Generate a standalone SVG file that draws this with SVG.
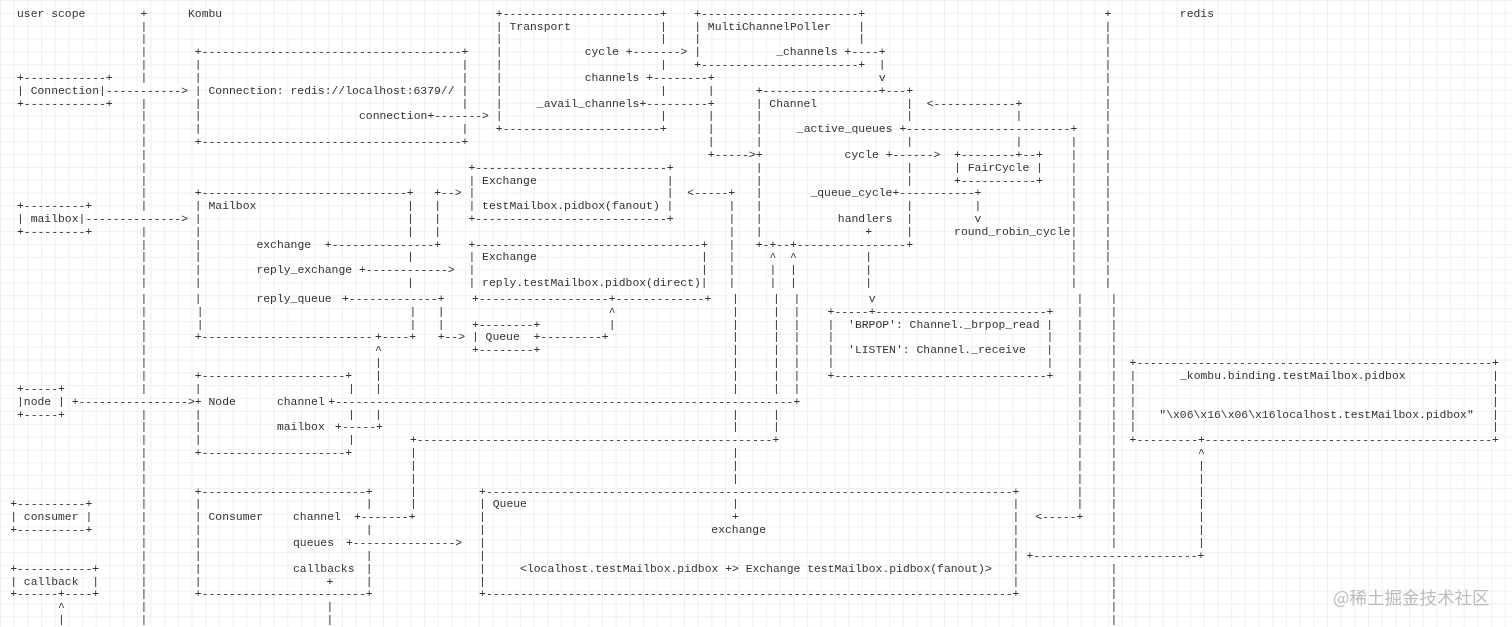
<svg xmlns="http://www.w3.org/2000/svg" width="1512" height="627" viewBox="0 0 1512 627" xml:space="preserve">
<defs>
<pattern id="grid" width="13.68" height="12.84" patternUnits="userSpaceOnUse">
<path d="M0 0.5H13.68M0.5 0V12.84" stroke="#ececec" stroke-width="0.8" fill="none"/>
</pattern>
<filter id="soft" x="-2%" y="-2%" width="104%" height="104%">
<feGaussianBlur stdDeviation="0.25"/>
</filter>
<style>
.t{font-family:"Liberation Mono","DejaVu Sans Mono",monospace;font-size:11.4px;fill:#333333;white-space:pre}
.wm{font-family:"Noto Sans CJK SC","Noto Sans",sans-serif;font-size:17.5px;fill:#bdbdbd}
</style>
</defs>
<rect width="1512" height="627" fill="#ffffff"/>
<rect width="1512" height="627" fill="url(#grid)"/>
<g filter="url(#soft)">

<g id="scopes">
<text class="t" x="17" y="16.8">user scope</text>
<text class="t" x="188" y="16.8">Kombu</text>
<text class="t" x="1179.8" y="16.8">redis</text>
<text class="t" x="140.6" y="16.8">+</text>
<text class="t" x="140.6" y="29.6">|</text><text class="t" x="140.6" y="42.4">|</text><text class="t" x="140.6" y="55.3">|</text><text class="t" x="140.6" y="68.1">|</text><text class="t" x="140.6" y="80.9">|</text><text class="t" x="140.6" y="106.5">|</text><text class="t" x="140.6" y="119.4">|</text><text class="t" x="140.6" y="132.2">|</text><text class="t" x="140.6" y="145.0">|</text><text class="t" x="140.6" y="157.8">|</text><text class="t" x="140.6" y="170.6">|</text><text class="t" x="140.6" y="183.5">|</text><text class="t" x="140.6" y="196.3">|</text><text class="t" x="140.6" y="209.1">|</text><text class="t" x="140.6" y="234.7">|</text><text class="t" x="140.6" y="247.6">|</text><text class="t" x="140.6" y="260.4">|</text><text class="t" x="140.6" y="273.2">|</text><text class="t" x="140.6" y="286.0">|</text>
<text class="t" x="140.6" y="301.8">|</text><text class="t" x="140.6" y="314.7">|</text><text class="t" x="140.6" y="327.5">|</text><text class="t" x="140.6" y="340.4">|</text><text class="t" x="140.6" y="353.2">|</text><text class="t" x="140.6" y="366.1">|</text><text class="t" x="140.6" y="378.9">|</text><text class="t" x="140.6" y="391.8">|</text><text class="t" x="140.6" y="417.5">|</text><text class="t" x="140.6" y="430.3">|</text><text class="t" x="140.6" y="443.2">|</text><text class="t" x="140.6" y="456.0">|</text><text class="t" x="140.6" y="468.9">|</text><text class="t" x="140.6" y="481.7">|</text><text class="t" x="140.6" y="494.6">|</text><text class="t" x="140.6" y="507.4">|</text><text class="t" x="140.6" y="520.3">|</text><text class="t" x="140.6" y="533.1">|</text><text class="t" x="140.6" y="546.0">|</text><text class="t" x="140.6" y="558.8">|</text><text class="t" x="140.6" y="571.7">|</text><text class="t" x="140.6" y="584.5">|</text><text class="t" x="140.6" y="597.4">|</text><text class="t" x="140.6" y="610.2">|</text><text class="t" x="140.6" y="623.1">|</text>
<text class="t" x="1104.6" y="16.8">+</text>
<text class="t" x="1104.6" y="29.6">|</text><text class="t" x="1104.6" y="42.4">|</text><text class="t" x="1104.6" y="55.3">|</text><text class="t" x="1104.6" y="68.1">|</text><text class="t" x="1104.6" y="80.9">|</text><text class="t" x="1104.6" y="93.7">|</text><text class="t" x="1104.6" y="106.5">|</text><text class="t" x="1104.6" y="119.4">|</text><text class="t" x="1104.6" y="132.2">|</text><text class="t" x="1104.6" y="145.0">|</text><text class="t" x="1104.6" y="157.8">|</text><text class="t" x="1104.6" y="170.6">|</text><text class="t" x="1104.6" y="183.5">|</text><text class="t" x="1104.6" y="196.3">|</text><text class="t" x="1104.6" y="209.1">|</text><text class="t" x="1104.6" y="221.9">|</text><text class="t" x="1104.6" y="234.7">|</text><text class="t" x="1104.6" y="247.6">|</text><text class="t" x="1104.6" y="260.4">|</text><text class="t" x="1104.6" y="273.2">|</text><text class="t" x="1104.6" y="286.0">|</text>
<text class="t" x="1110.6" y="301.8">|</text><text class="t" x="1110.6" y="314.7">|</text><text class="t" x="1110.6" y="327.5">|</text><text class="t" x="1110.6" y="340.4">|</text><text class="t" x="1110.6" y="353.2">|</text><text class="t" x="1110.6" y="366.1">|</text><text class="t" x="1110.6" y="378.9">|</text><text class="t" x="1110.6" y="391.8">|</text><text class="t" x="1110.6" y="404.6">|</text><text class="t" x="1110.6" y="417.5">|</text><text class="t" x="1110.6" y="430.3">|</text><text class="t" x="1110.6" y="443.2">|</text><text class="t" x="1110.6" y="456.0">|</text><text class="t" x="1110.6" y="468.9">|</text><text class="t" x="1110.6" y="481.7">|</text><text class="t" x="1110.6" y="494.6">|</text><text class="t" x="1110.6" y="507.4">|</text><text class="t" x="1110.6" y="520.3">|</text><text class="t" x="1110.6" y="533.1">|</text><text class="t" x="1110.6" y="546.0">|</text><text class="t" x="1110.6" y="571.7">|</text><text class="t" x="1110.6" y="584.5">|</text><text class="t" x="1110.6" y="597.4">|</text><text class="t" x="1110.6" y="610.2">|</text><text class="t" x="1110.6" y="623.1">|</text>
</g>

<g id="node-user-connection">
<text class="t" x="17" y="80.9">+------------+</text>
<text class="t" x="17" y="93.7">| Connection|</text>
<text class="t" x="17" y="106.5">+------------+</text>
</g>
<g id="node-user-mailbox">
<text class="t" x="17" y="209.1">+---------+</text>
<text class="t" x="17" y="221.9">| mailbox|</text>
<text class="t" x="17" y="234.7">+---------+</text>
</g>
<g id="node-user-node">
<text class="t" x="17" y="391.8">+-----+</text>
<text class="t" x="17" y="404.6">|node |</text>
<text class="t" x="17" y="417.5">+-----+</text>
</g>
<g id="node-user-consumer">
<text class="t" x="10.2" y="507.4">+----------+</text>
<text class="t" x="10.2" y="520.3">| consumer |</text>
<text class="t" x="10.2" y="533.1">+----------+</text>
</g>
<g id="node-user-callback">
<text class="t" x="10.2" y="571.7">+-----------+</text>
<text class="t" x="10.2" y="584.5">| callback  |</text>
<text class="t" x="10.2" y="597.4">+------+----+</text>
</g>

<g id="node-connection">
<text class="t" x="194.8" y="55.3" textLength="273.6">+--------------------------------------+</text>
<text class="t" x="194.8" y="68.1">|</text><text class="t" x="461.6" y="68.1">|</text>
<text class="t" x="194.8" y="80.9">|</text><text class="t" x="461.6" y="80.9">|</text>
<text class="t" x="194.8" y="93.7">| Connection: redis://localhost:6379// |</text>
<text class="t" x="194.8" y="106.5">|</text><text class="t" x="461.6" y="106.5">|</text>
<text class="t" x="194.8" y="119.4">|</text><text class="t" x="359" y="119.4">connection</text>
<text class="t" x="194.8" y="132.2">|</text><text class="t" x="461.6" y="132.2">|</text>
<text class="t" x="194.8" y="145.0" textLength="273.6">+--------------------------------------+</text>
</g>

<g id="node-mailbox">
<text class="t" x="194.8" y="196.3" textLength="218.88">+------------------------------+</text>
<text class="t" x="194.8" y="209.1">| Mailbox</text><text class="t" x="406.9" y="209.1">|</text>
<text class="t" x="194.8" y="221.9">|</text><text class="t" x="406.9" y="221.9">|</text>
<text class="t" x="194.8" y="234.7">|</text><text class="t" x="406.9" y="234.7">|</text>
<text class="t" x="194.8" y="247.6">|</text><text class="t" x="256.4" y="247.6">exchange</text>
<text class="t" x="194.8" y="260.4">|</text><text class="t" x="406.9" y="260.4">|</text>
<text class="t" x="194.8" y="273.2">|</text><text class="t" x="256.4" y="273.2">reply_exchange</text>
<text class="t" x="194.8" y="286.0">|</text><text class="t" x="406.9" y="286.0">|</text>
<text class="t" x="194.8" y="301.8">|</text><text class="t" x="256.4" y="301.8">reply_queue</text>
<text class="t" x="196.8" y="314.7">|</text><text class="t" x="409.6" y="314.7">|</text>
<text class="t" x="196.8" y="327.5">|</text><text class="t" x="409.6" y="327.5">|</text>
<text class="t" x="194.8" y="340.4" textLength="177.84">+-------------------------</text><text class="t" x="375.1" y="340.4">+----+</text>
</g>

<g id="node-node">
<text class="t" x="194.8" y="378.9" textLength="157.32">+---------------------+</text>
<text class="t" x="194.8" y="391.8">|</text><text class="t" x="348" y="391.8">|</text>
<text class="t" x="194.8" y="404.6">+ Node</text><text class="t" x="276.9" y="404.6">channel</text>
<text class="t" x="194.8" y="417.5">|</text><text class="t" x="348" y="417.5">|</text>
<text class="t" x="194.8" y="430.3">|</text><text class="t" x="276.9" y="430.3">mailbox</text>
<text class="t" x="194.8" y="443.2">|</text><text class="t" x="348" y="443.2">|</text>
<text class="t" x="194.8" y="456.0" textLength="157.32">+---------------------+</text>
</g>

<g id="node-consumer">
<text class="t" x="194.8" y="494.6" textLength="177.84">+------------------------+</text>
<text class="t" x="194.8" y="507.4">|</text><text class="t" x="365.8" y="507.4">|</text>
<text class="t" x="194.8" y="520.3">| Consumer</text><text class="t" x="293" y="520.3">channel</text>
<text class="t" x="194.8" y="533.1">|</text><text class="t" x="365.8" y="533.1">|</text>
<text class="t" x="194.8" y="546.0">|</text><text class="t" x="293" y="546.0">queues</text>
<text class="t" x="194.8" y="558.8">|</text><text class="t" x="365.8" y="558.8">|</text>
<text class="t" x="194.8" y="571.7">|</text><text class="t" x="293" y="571.7">callbacks</text><text class="t" x="365.8" y="571.7">|</text>
<text class="t" x="194.8" y="584.5">|</text><text class="t" x="365.8" y="584.5">|</text>
<text class="t" x="194.8" y="597.4" textLength="177.84">+------------------------+</text>
</g>

<g id="node-transport">
<text class="t" x="495.8" y="16.8" textLength="171">+-----------------------+</text>
<text class="t" x="495.8" y="29.6">| Transport</text><text class="t" x="660" y="29.6">|</text>
<text class="t" x="495.8" y="42.4">|</text><text class="t" x="660" y="42.4">|</text>
<text class="t" x="495.8" y="55.3">|</text><text class="t" x="584.7" y="55.3">cycle</text>
<text class="t" x="495.8" y="68.1">|</text><text class="t" x="660" y="68.1">|</text>
<text class="t" x="495.8" y="80.9">|</text><text class="t" x="584.7" y="80.9">channels</text>
<text class="t" x="495.8" y="93.7">|</text><text class="t" x="660" y="93.7">|</text>
<text class="t" x="495.8" y="106.5">|</text><text class="t" x="536.8" y="106.5">_avail_channels</text>
<text class="t" x="495.8" y="119.4">|</text><text class="t" x="660" y="119.4">|</text>
<text class="t" x="495.8" y="132.2" textLength="171">+-----------------------+</text>
</g>

<g id="node-multichannelpoller">
<text class="t" x="694.2" y="16.8" textLength="171">+-----------------------+</text>
<text class="t" x="694.2" y="29.6">| MultiChannelPoller</text><text class="t" x="858.3" y="29.6">|</text>
<text class="t" x="694.2" y="42.4">|</text><text class="t" x="858.3" y="42.4">|</text>
<text class="t" x="694.2" y="55.3">|</text><text class="t" x="776.2" y="55.3">_channels</text>
<text class="t" x="694.2" y="68.1" textLength="171">+-----------------------+</text>
</g>

<g id="node-channel">
<text class="t" x="755.7" y="93.7" textLength="157.32">+-----------------+---+</text>
<text class="t" x="755.7" y="106.5">| Channel</text><text class="t" x="906.2" y="106.5">|</text>
<text class="t" x="755.7" y="119.4">|</text><text class="t" x="906.2" y="119.4">|</text>
<text class="t" x="755.7" y="132.2">|</text><text class="t" x="796.8" y="132.2">_active_queues</text>
<text class="t" x="755.7" y="145.0">|</text><text class="t" x="906.2" y="145.0">|</text>
<text class="t" x="844.6" y="157.8">cycle</text>
<text class="t" x="755.7" y="170.6">|</text><text class="t" x="906.2" y="170.6">|</text>
<text class="t" x="755.7" y="183.5">|</text><text class="t" x="906.2" y="183.5">|</text>
<text class="t" x="755.7" y="196.3">|</text><text class="t" x="810.4" y="196.3">_queue_cycle</text>
<text class="t" x="755.7" y="209.1">|</text><text class="t" x="906.2" y="209.1">|</text>
<text class="t" x="755.7" y="221.9">|</text><text class="t" x="837.8" y="221.9">handlers</text><text class="t" x="906.2" y="221.9">|</text>
<text class="t" x="755.7" y="234.7">|</text><text class="t" x="906.2" y="234.7">|</text>
<text class="t" x="755.7" y="247.6" textLength="157.32">+-+--+----------------+</text>
</g>

<g id="node-faircycle">
<text class="t" x="954.1" y="157.8">+--------+--+</text>
<text class="t" x="954.1" y="170.6">| FairCycle |</text>
<text class="t" x="954.1" y="183.5">+-----------+</text>
</g>
<g id="label-round-robin">
<text class="t" x="954.1" y="234.7">round_robin_cycle</text>
</g>

<g id="node-exchange-fanout">
<text class="t" x="468.4" y="170.6" textLength="205.2">+----------------------------+</text>
<text class="t" x="468.4" y="183.5">| Exchange</text><text class="t" x="666.8" y="183.5">|</text>
<text class="t" x="468.4" y="196.3">|</text><text class="t" x="666.8" y="196.3">|</text>
<text class="t" x="468.4" y="209.1">| testMailbox.pidbox(fanout) |</text>
<text class="t" x="468.4" y="221.9" textLength="205.2">+----------------------------+</text>
</g>

<g id="node-exchange-direct">
<text class="t" x="468.4" y="247.6" textLength="239.4">+---------------------------------+</text>
<text class="t" x="468.4" y="260.4">| Exchange</text><text class="t" x="701" y="260.4">|</text>
<text class="t" x="468.4" y="273.2">|</text><text class="t" x="701" y="273.2">|</text>
<text class="t" x="468.4" y="286.0">| reply.testMailbox.pidbox(direct)|</text>
<text class="t" x="471.9" y="301.8" textLength="239.4">+-------------------+-------------+</text>
</g>

<g id="node-queue-small">
<text class="t" x="471.9" y="327.5">+--------+</text>
<text class="t" x="471.9" y="340.4">| Queue  +</text>
<text class="t" x="471.9" y="353.2">+--------+</text>
</g>

<g id="node-brpop">
<text class="t" x="827.6" y="314.7" textLength="225.72">+-----+-------------------------+</text>
<text class="t" x="827.6" y="327.5">|  'BRPOP': Channel._brpop_read |</text>
<text class="t" x="827.6" y="340.4">|</text><text class="t" x="1046.5" y="340.4">|</text>
<text class="t" x="827.6" y="353.2">|  'LISTEN': Channel._receive   |</text>
<text class="t" x="827.6" y="366.1">|</text><text class="t" x="1046.5" y="366.1">|</text>
<text class="t" x="827.6" y="378.9" textLength="225.72">+-------------------------------+</text>
</g>

<g id="node-kombu-binding">
<text class="t" x="1129.6" y="366.1" textLength="369.36">+----------------------------------------------------+</text>
<text class="t" x="1129.6" y="378.9">|</text><text class="t" x="1180" y="378.9">_kombu.binding.testMailbox.pidbox</text><text class="t" x="1492.1" y="378.9">|</text>
<text class="t" x="1129.6" y="391.8">|</text><text class="t" x="1492.1" y="391.8">|</text>
<text class="t" x="1129.6" y="404.6">|</text><text class="t" x="1492.1" y="404.6">|</text>
<text class="t" x="1129.6" y="417.5">|</text><text class="t" x="1159.3" y="417.5">"\x06\x16\x06\x16localhost.testMailbox.pidbox"</text><text class="t" x="1492.1" y="417.5">|</text>
<text class="t" x="1129.6" y="430.3">|</text><text class="t" x="1492.1" y="430.3">|</text>
<text class="t" x="1129.6" y="443.2" textLength="369.36">+---------+------------------------------------------+</text>
</g>

<g id="node-queue">
<text class="t" x="479.1" y="494.6" textLength="540.36">+-----------------------------------------------------------------------------+</text>
<text class="t" x="479.1" y="507.4">| Queue</text><text class="t" x="1012.6" y="507.4">|</text>
<text class="t" x="479.1" y="520.3">|</text><text class="t" x="1012.6" y="520.3">|</text>
<text class="t" x="479.1" y="533.1">|</text><text class="t" x="711.3" y="533.1">exchange</text><text class="t" x="1012.6" y="533.1">|</text>
<text class="t" x="479.1" y="546.0">|</text><text class="t" x="1012.6" y="546.0">|</text>
<text class="t" x="479.1" y="558.8">|</text><text class="t" x="1012.6" y="558.8">|</text>
<text class="t" x="479.1" y="571.7">|</text><text class="t" x="520.1" y="571.7">&lt;localhost.testMailbox.pidbox +&gt; Exchange testMailbox.pidbox(fanout)&gt;</text><text class="t" x="1012.6" y="571.7">|</text>
<text class="t" x="479.1" y="584.5">|</text><text class="t" x="1012.6" y="584.5">|</text>
<text class="t" x="479.1" y="597.4" textLength="540.36">+-----------------------------------------------------------------------------+</text>
</g>

<g id="connectors">
<text class="t" x="105.9" y="93.7">-----------&gt;</text>
<text class="t" x="85.4" y="221.9">--------------&gt;</text>
<text class="t" x="427.4" y="119.4">+-------&gt;</text>
<text class="t" x="625.8" y="55.3">+-------&gt;</text>
<text class="t" x="646.3" y="80.9">+--------+</text>
<text class="t" x="707.8" y="93.7">|</text>
<text class="t" x="639.4" y="106.5">+---------+</text>
<text class="t" x="707.8" y="119.4">|</text><text class="t" x="707.8" y="132.2">|</text><text class="t" x="707.8" y="145.0">|</text>
<text class="t" x="707.8" y="157.8">+-----&gt;+</text>
<text class="t" x="844.6" y="55.3">+----+</text>
<text class="t" x="878.8" y="68.1">|</text>
<text class="t" x="878.8" y="80.9">v</text>
<text class="t" x="926.7" y="106.5">&lt;------------+</text>
<text class="t" x="1015.6" y="119.4">|</text><text class="t" x="1015.6" y="145.0">|</text>
<text class="t" x="899.4" y="132.2" textLength="177.84">+------------------------+</text>
<text class="t" x="885.7" y="157.8">+------&gt;</text>
<text class="t" x="1070.4" y="145.0">|</text><text class="t" x="1070.4" y="157.8">|</text><text class="t" x="1070.4" y="170.6">|</text><text class="t" x="1070.4" y="183.5">|</text><text class="t" x="1070.4" y="196.3">|</text><text class="t" x="1070.4" y="209.1">|</text><text class="t" x="1070.4" y="221.9">|</text><text class="t" x="1070.4" y="234.7">|</text><text class="t" x="1070.4" y="247.6">|</text><text class="t" x="1070.4" y="260.4">|</text><text class="t" x="1070.4" y="273.2">|</text><text class="t" x="1070.4" y="286.0">|</text>
<text class="t" x="892.5" y="196.3">+-----------+</text>
<text class="t" x="974.6" y="209.1">|</text>
<text class="t" x="974.6" y="221.9">v</text>
<text class="t" x="865.2" y="234.7">+</text>
<text class="t" x="769.4" y="260.4">^</text><text class="t" x="789.9" y="260.4">^</text><text class="t" x="865.2" y="260.4">|</text>
<text class="t" x="769.4" y="273.2">|</text><text class="t" x="789.9" y="273.2">|</text><text class="t" x="865.2" y="273.2">|</text>
<text class="t" x="769.4" y="286.0">|</text><text class="t" x="789.9" y="286.0">|</text><text class="t" x="865.2" y="286.0">|</text>
<text class="t" x="687.3" y="196.3">&lt;-----+</text>
<text class="t" x="728.4" y="209.1">|</text><text class="t" x="728.4" y="221.9">|</text><text class="t" x="728.4" y="234.7">|</text><text class="t" x="728.4" y="247.6">|</text><text class="t" x="728.4" y="260.4">|</text><text class="t" x="728.4" y="273.2">|</text><text class="t" x="728.4" y="286.0">|</text>
<text class="t" x="434.2" y="196.3">+--&gt;</text>
<text class="t" x="434.2" y="209.1">|</text><text class="t" x="434.2" y="221.9">|</text><text class="t" x="434.2" y="234.7">|</text>
<text class="t" x="324.8" y="247.6">+---------------+</text>
<text class="t" x="359" y="273.2">+------------&gt;</text>

<text class="t" x="342" y="301.8">+-------------+</text>
<text class="t" x="437.7" y="314.7">|</text><text class="t" x="437.7" y="327.5">|</text>
<text class="t" x="437.7" y="340.4">+--&gt;</text>
<text class="t" x="608.7" y="314.7">^</text><text class="t" x="608.7" y="327.5">|</text>
<text class="t" x="540.3" y="340.4">---------+</text>
<text class="t" x="731.9" y="301.8">|</text><text class="t" x="731.9" y="314.7">|</text><text class="t" x="731.9" y="327.5">|</text><text class="t" x="731.9" y="340.4">|</text><text class="t" x="731.9" y="353.2">|</text><text class="t" x="731.9" y="366.1">|</text><text class="t" x="731.9" y="378.9">|</text><text class="t" x="731.9" y="391.8">|</text><text class="t" x="731.9" y="417.5">|</text><text class="t" x="731.9" y="430.3">|</text><text class="t" x="731.9" y="456.0">|</text><text class="t" x="731.9" y="468.9">|</text><text class="t" x="731.9" y="481.7">|</text><text class="t" x="731.9" y="507.4">|</text><text class="t" x="731.9" y="520.3">+</text>
<text class="t" x="772.9" y="301.8">|</text><text class="t" x="772.9" y="314.7">|</text><text class="t" x="772.9" y="327.5">|</text><text class="t" x="772.9" y="340.4">|</text><text class="t" x="772.9" y="353.2">|</text><text class="t" x="772.9" y="366.1">|</text><text class="t" x="772.9" y="378.9">|</text><text class="t" x="772.9" y="391.8">|</text><text class="t" x="772.9" y="417.5">|</text><text class="t" x="772.9" y="430.3">|</text>
<text class="t" x="793.4" y="301.8">|</text><text class="t" x="793.4" y="314.7">|</text><text class="t" x="793.4" y="327.5">|</text><text class="t" x="793.4" y="340.4">|</text><text class="t" x="793.4" y="353.2">|</text><text class="t" x="793.4" y="366.1">|</text><text class="t" x="793.4" y="378.9">|</text><text class="t" x="793.4" y="391.8">|</text>
<text class="t" x="868.7" y="301.8">v</text>
<text class="t" x="1076.4" y="301.8">|</text><text class="t" x="1076.4" y="314.7">|</text><text class="t" x="1076.4" y="327.5">|</text><text class="t" x="1076.4" y="340.4">|</text><text class="t" x="1076.4" y="353.2">|</text><text class="t" x="1076.4" y="366.1">|</text><text class="t" x="1076.4" y="378.9">|</text><text class="t" x="1076.4" y="391.8">|</text><text class="t" x="1076.4" y="404.6">|</text><text class="t" x="1076.4" y="417.5">|</text><text class="t" x="1076.4" y="430.3">|</text><text class="t" x="1076.4" y="443.2">|</text><text class="t" x="1076.4" y="456.0">|</text><text class="t" x="1076.4" y="468.9">|</text><text class="t" x="1076.4" y="481.7">|</text><text class="t" x="1076.4" y="494.6">|</text><text class="t" x="1076.4" y="507.4">|</text>
<text class="t" x="1035.4" y="520.3">&lt;-----+</text>
<text class="t" x="375.1" y="353.2">^</text><text class="t" x="375.1" y="366.1">|</text><text class="t" x="375.1" y="378.9">|</text><text class="t" x="375.1" y="391.8">|</text><text class="t" x="375.1" y="417.5">|</text>
<text class="t" x="71.7" y="404.6">+----------------&gt;</text>
<text class="t" x="328.3" y="404.6" textLength="471.96">+-------------------------------------------------------------------+</text>
<text class="t" x="335.1" y="430.3">+-----+</text>
<text class="t" x="409.9" y="443.2" textLength="369.36">+----------------------------------------------------+</text>
<text class="t" x="409.9" y="456.0">|</text><text class="t" x="409.9" y="468.9">|</text><text class="t" x="409.9" y="481.7">|</text><text class="t" x="409.9" y="494.6">|</text><text class="t" x="409.9" y="507.4">|</text>
<text class="t" x="354" y="520.3">+-------+</text>
<text class="t" x="345.9" y="546.0">+---------------&gt;</text>
<text class="t" x="326.6" y="584.5">+</text>
<text class="t" x="326.6" y="610.2">|</text><text class="t" x="326.6" y="623.1">|</text>
<text class="t" x="58.1" y="610.2">^</text><text class="t" x="58.1" y="623.1">|</text>
<text class="t" x="1198" y="456.0">^</text>
<text class="t" x="1198" y="468.9">|</text><text class="t" x="1198" y="481.7">|</text><text class="t" x="1198" y="494.6">|</text><text class="t" x="1198" y="507.4">|</text><text class="t" x="1198" y="520.3">|</text><text class="t" x="1198" y="533.1">|</text><text class="t" x="1198" y="546.0">|</text>
<text class="t" x="1026.6" y="558.8" textLength="177.84">+------------------------+</text>
</g>

<g id="watermark">
<text class="wm" x="1333" y="604">@稀土掘金技术社区</text>
</g>
</g>
</svg>
